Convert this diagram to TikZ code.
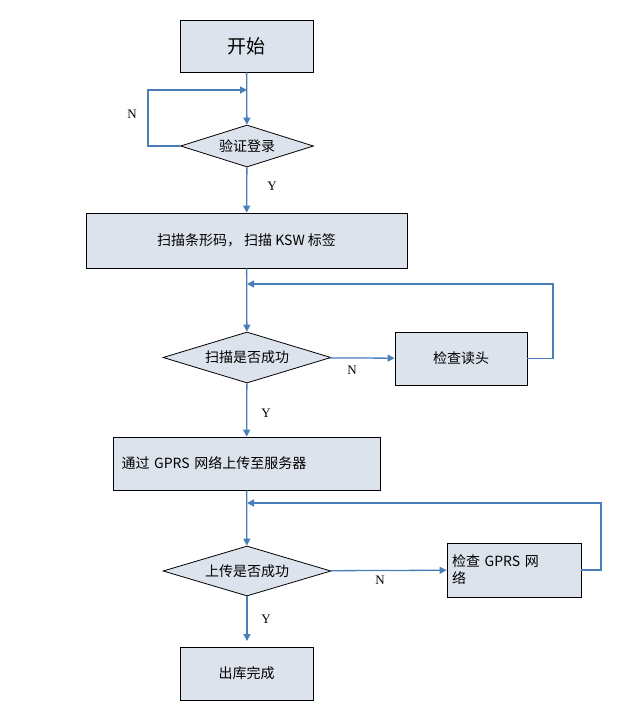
\documentclass[tikz,border=0pt]{standalone}
\usepackage{fontspec}
\setmainfont{Liberation Serif}
\newfontfamily\cjk{Noto Sans CJK SC}
\usetikzlibrary{shapes.geometric,arrows.meta}
\definecolor{boxfill}{HTML}{DDE3EC}
\definecolor{arr}{HTML}{4A7EBB}
\begin{document}
\begin{tikzpicture}[x=1pt,y=-1pt,
  box/.style={draw=black,fill=boxfill,line width=0.8pt,inner sep=0pt,font=\cjk\fontsize{14}{17}\selectfont},
  dia/.style={diamond,draw=black,fill=boxfill,line width=0.8pt,inner sep=0pt,font=\cjk\fontsize{14}{17}\selectfont},
  con/.style={draw=arr,line width=1.3pt,-{Triangle[length=7pt,width=7pt]}},
  lin/.style={draw=arr,line width=1.3pt},
  lab/.style={font=\fontsize{13}{15}\selectfont}]
\useasboundingbox (0,0) rectangle (643,710);
\node[box,minimum width=133,minimum height=52,font=\cjk\fontsize{19}{22}\selectfont] (start) at (246.5,46) {开始};
\node[dia,minimum width=133,minimum height=42] (d1) at (247,146) {};
\node[font=\cjk\fontsize{14}{17}\selectfont] at (247,146) {验证登录};
\node[box,minimum width=321,minimum height=55] (b2) at (246.5,240.5) {扫描条形码， 扫描 KSW 标签};
\node[dia,minimum width=168,minimum height=51] (d2) at (247,357.5) {};
\node[font=\cjk\fontsize{14}{17}\selectfont] at (247,357.5) {扫描是否成功};
\node[box,minimum width=132,minimum height=53] (c1) at (461,358.5) {检查读头};
\node[box,minimum width=267,minimum height=53,align=left,text width=250] (b3) at (246.5,463.5) {通过 GPRS 网络上传至服务器};
\node[dia,minimum width=168,minimum height=50] (d3) at (247,571) {};
\node[font=\cjk\fontsize{14}{17}\selectfont] at (247,571) {上传是否成功};
\node[box,minimum width=134,minimum height=54,align=left,text width=124] (c2) at (514,570) {检查 GPRS 网\\络};
\node[box,minimum width=133,minimum height=53] (end) at (246.5,673.5) {出库完成};
\coordinate (j1) at (247,90);
\coordinate (j2) at (247,284);
\coordinate (j3) at (247,503);
\draw[con] (start) -- (d1);
\draw[con] (d1.west) -- (148,146) -- (148,90) -- (j1);
\draw[con] (d1) -- (b2);
\draw[con] (b2) -- (d2);
\draw[con] (d2) -- (c1);
\draw[con] (c1.east) -- (553,358.5) -- (553,284) -- (j2);
\draw[con] (d2) -- (b3);
\draw[con] (b3) -- (d3);
\draw[con] (d3) -- (c2);
\draw[con] (c2.east) -- (601,570) -- (601,503) -- (j3);
\draw[con] (d3.south) -- (247,641);
\node[lab] at (132,114) {N};
\node[lab] at (272,186) {Y};
\node[lab] at (352,370) {N};
\node[lab] at (266,413) {Y};
\node[lab] at (380,580) {N};
\node[lab] at (266,619) {Y};
\end{tikzpicture}
\end{document}
